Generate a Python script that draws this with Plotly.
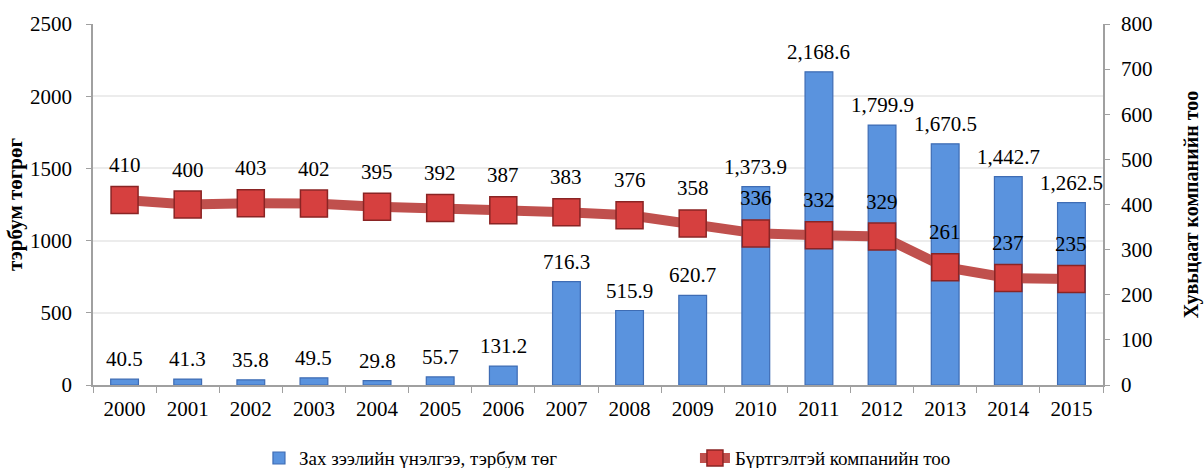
import plotly.graph_objects as go

years = [str(y) for y in range(2000, 2016)]
market_cap = [40.5, 41.3, 35.8, 49.5, 29.8, 55.7, 131.2, 716.3, 515.9, 620.7,
              1373.9, 2168.6, 1799.9, 1670.5, 1442.7, 1262.5]
companies = [410, 400, 403, 402, 395, 392, 387, 383, 376, 358,
             336, 332, 329, 261, 237, 235]

bar_name = "Зах зээлийн үнэлгээ, тэрбум төг"
line_name = "Бүртгэлтэй компанийн тоо"
left_title = "тэрбум төгрөг"
right_title = "Хувьцаат компанийн тоо"

FONT = "Liberation Serif, Times New Roman, serif"

fig = go.Figure()
fig.add_trace(go.Bar(
    x=years, y=market_cap, name=bar_name,
    marker=dict(color="#5a93de", line=dict(color="#3e6cb4", width=1.2)),
    yaxis="y",
))
fig.add_trace(go.Scatter(
    x=years, y=companies, name=line_name, mode="lines+markers",
    line=dict(color="#c0504d", width=10),
    marker=dict(symbol="square", size=27, color="#d6403f",
                line=dict(color="#8a2424", width=1.5)),
    yaxis="y2",
))

annotations = []
for i, v in enumerate(market_cap):
    annotations.append(dict(x=i, y=v, xref="x", yref="y", text=f"{v:,.1f}",
                            showarrow=False, yshift=20,
                            font=dict(family=FONT, size=21, color="black")))
for i, v in enumerate(companies):
    annotations.append(dict(x=i, y=v, xref="x", yref="y2", text=f"{v}",
                            showarrow=False, yshift=35,
                            font=dict(family=FONT, size=21, color="black")))

fig.update_layout(
    width=1204, height=468,
    margin=dict(l=93, r=101, t=24, b=83, autoexpand=False),
    paper_bgcolor="white", plot_bgcolor="white",
    font=dict(family=FONT, size=21, color="black"),
    bargap=0.56,
    showlegend=True,
    legend=dict(orientation="h", x=0.596, xanchor="center", y=-0.15, yanchor="top",
                font=dict(family=FONT, size=19), entrywidth=391, entrywidthmode="pixels"),
    xaxis=dict(type="category", range=[-0.5, 15.5], autorange=False,
               showline=True, linecolor="#a0a0a0", linewidth=1.5,
               ticks="outside", tickson="boundaries", ticklen=6, tickcolor="#a0a0a0",
               ticklabelstandoff=4,
               tickfont=dict(family=FONT, size=21), showgrid=False),
    yaxis=dict(range=[0, 2500], dtick=500, showline=True, linecolor="#a0a0a0",
               linewidth=1.5, ticks="outside", ticklen=5, tickcolor="#a0a0a0",
               ticklabelstandoff=10,
               gridcolor="#ececec", gridwidth=1.5, zeroline=False,
               tickfont=dict(family=FONT, size=21),
               title=dict(text=f"<b>{left_title}</b>", font=dict(family=FONT, size=21),
                          standoff=2)),
    yaxis2=dict(range=[0, 800], dtick=100, overlaying="y", side="right",
                showline=True, linecolor="#a0a0a0", linewidth=1.5,
                ticks="outside", ticklen=5, tickcolor="#a0a0a0",
                ticklabelstandoff=7,
                showgrid=False, zeroline=False,
                tickfont=dict(family=FONT, size=21),
                title=dict(text=f"<b>{right_title}</b>", font=dict(family=FONT, size=20),
                           standoff=33)),
    annotations=annotations,
)

fig.write_html("out.html", config={"displayModeBar": False},
               post_script="document.body.style.margin='0';document.body.style.overflow='hidden';")
